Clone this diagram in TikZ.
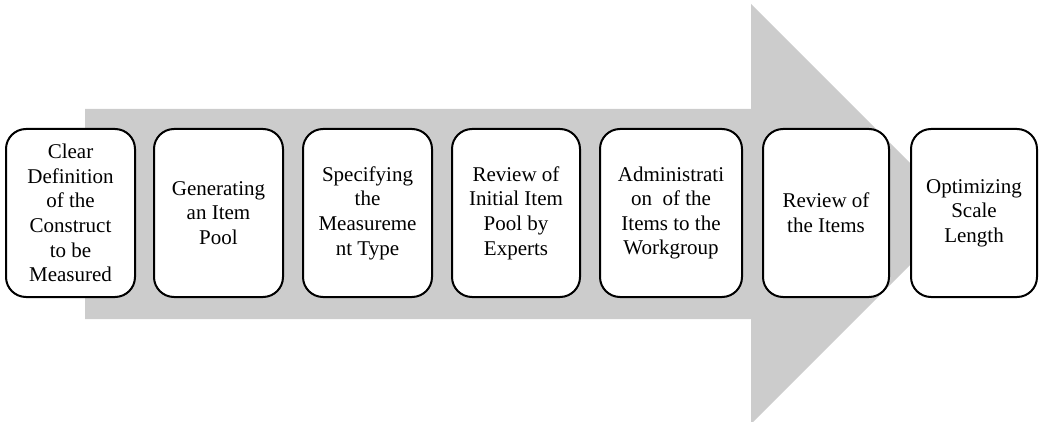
\documentclass[tikz,border=0pt]{standalone}
\usepackage{fontspec}
\setmainfont{Liberation Serif}
\begin{document}
\begin{tikzpicture}[x=1pt,y=-1pt,
  stepbox/.style={draw=black, fill=white, line width=2pt, rounded corners=20pt,
    minimum height=168pt, inner sep=2pt, align=center,
    font=\fontsize{21}{24.6}\selectfont},
  bigarrow/.style={fill=black!20, draw=none}]
\useasboundingbox (0,0) rectangle (1040,422);
% big background arrow
\fill[bigarrow] (85,109) -- (751,109) -- (751,4) -- (961,214) -- (751,424) -- (751,319) -- (85,319) -- cycle;
% steps
\node[stepbox, minimum width=129pt] (b1) at (70.5,213) {Clear\\Definition\\of the\\Construct\\to be\\Measured};
\node[stepbox, minimum width=129pt] (b2) at (218.5,213) {Generating\\an Item\\Pool};
\node[stepbox, minimum width=129pt] (b3) at (367.5,213) {Specifying\\the\\Measureme\\nt Type};
\node[stepbox, minimum width=128pt] (b4) at (516,213) {Review of\\Initial Item\\Pool by\\Experts};
\node[stepbox, minimum width=142pt] (b5) at (671,213) {Administrati\\on\ \ of the\\Items to the\\Workgroup};
\node[stepbox, minimum width=126pt] (b6) at (826,213) {Review of\\the Items};
\node[stepbox, minimum width=126pt] (b7) at (974,213) {Optimizing\\Scale\\Length};
\end{tikzpicture}
\end{document}
